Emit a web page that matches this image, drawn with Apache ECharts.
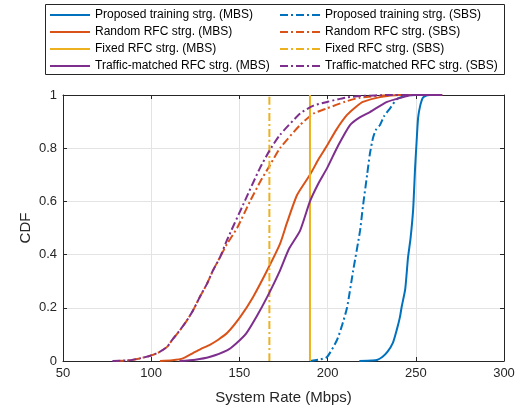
<!DOCTYPE html>
<html>
<head>
<meta charset="utf-8">
<script src="https://cdn.jsdelivr.net/npm/echarts@6/dist/echarts.min.js"></script>
<style>
  html, body { margin: 0; padding: 0; background: #fff; }
  #chart { width: 520px; height: 408px; }
</style>
</head>
<body>
<div id="chart"></div>
<script>
// x ticks / y ticks
const xTicks = [50, 100, 150, 200, 250, 300];
const yTicks = [0, 0.2, 0.4, 0.6, 0.8, 1];

// Proposed training strg. (MBS)
const propMbsX = [218, 225, 228, 231, 234, 237, 239.2, 241, 242, 244, 245.6, 247, 248.5, 249.6, 250.5, 251.3, 252.5, 254, 256, 258];
const propMbsY = [0, 0.002, 0.004, 0.015, 0.035, 0.068, 0.117, 0.165, 0.204, 0.27, 0.39, 0.46, 0.57, 0.726, 0.83, 0.914, 0.96, 0.99, 0.998, 1];
// Proposed training strg. (SBS)
const propSbsX = [190, 195, 199.7, 205.4, 208, 211, 214.5, 218.4, 220, 222.4, 224, 225.8, 227.5, 229.7, 232, 235.4, 239.4, 245, 250];
const propSbsY = [0, 0.005, 0.015, 0.08, 0.13, 0.2, 0.34, 0.49, 0.58, 0.70, 0.78, 0.84, 0.87, 0.887, 0.92, 0.95, 0.985, 0.998, 1];
// Random RFC strg. (MBS)
const randMbsX = [105, 112, 118, 123.7, 128, 133, 138, 143, 150.4, 157.7, 165.7, 173, 177, 182.7, 190, 195, 199.7, 205, 211, 216, 220, 229.7, 241, 265];
const randMbsY = [0, 0.003, 0.01, 0.03, 0.045, 0.06, 0.08, 0.105, 0.165, 0.24, 0.34, 0.44, 0.52, 0.624, 0.70, 0.76, 0.81, 0.87, 0.925, 0.955, 0.974, 0.992, 1, 1];
// Random RFC strg. (SBS)
const randSbsX = [80, 88, 93.7, 100.5, 105, 109, 112, 116.4, 120, 123.7, 127.5, 131.6, 135, 139, 143, 148.7, 156, 161.7, 167.4, 173, 184.4, 192, 199.7, 210, 218.4, 237, 265];
const randSbsY = [0, 0.003, 0.01, 0.022, 0.035, 0.053, 0.08, 0.117, 0.15, 0.19, 0.24, 0.29, 0.34, 0.39, 0.44, 0.5, 0.6, 0.673, 0.737, 0.8, 0.887, 0.93, 0.95, 0.975, 0.99, 1, 1];
// Fixed RFC strg.
const fixMbsX = [190, 190];
const fixMbsY = [0, 1];
const fixSbsX = [167, 167];
const fixSbsY = [0, 1];
// Traffic-matched RFC strg. (MBS)
const trafMbsX = [116, 125, 133, 143, 148, 154, 160, 165.7, 173, 178, 184.4, 190, 195, 199.7, 206, 212.7, 218, 224, 233.7, 242.8, 248, 265];
const trafMbsY = [0, 0.005, 0.015, 0.04, 0.065, 0.105, 0.17, 0.24, 0.34, 0.42, 0.49, 0.6, 0.67, 0.725, 0.81, 0.887, 0.915, 0.936, 0.974, 0.992, 1, 1];
// Traffic-matched RFC strg. (SBS)
const trafSbsX = [78, 88, 93.7, 100.5, 105, 109, 112, 116.4, 120, 123.7, 127.5, 131.6, 135, 139, 143, 152, 161.7, 167, 173, 184.4, 192, 199.7, 210, 218.4, 235, 260];
const trafSbsY = [0, 0.003, 0.01, 0.022, 0.035, 0.053, 0.08, 0.117, 0.15, 0.19, 0.24, 0.29, 0.34, 0.39, 0.455, 0.586, 0.726, 0.79, 0.85, 0.93, 0.96, 0.974, 0.99, 0.996, 1, 1];

const zip = (xs, ys) => xs.map((x, i) => [x, ys[i]]);

const BLUE = '#0072BD', ORANGE = '#D95319', YELLOW = '#EDB120', PURPLE = '#7E2F8E';
const DASHDOT = [8, 3, 2, 3];
const FONT = 'Liberation Sans, Arial, sans-serif';
const DARK = '#262626';

function mk(name, xs, ys, color, dashed) {
  return {
    name: name,
    type: 'line',
    symbol: 'none',
    smooth: 0.2,
    silent: true,
    data: zip(xs, ys),
    lineStyle: { color: color, width: 2, type: dashed ? DASHDOT : 'solid' },
    itemStyle: { color: color }
  };
}

const series = [
  mk('Proposed training strg. (MBS)', propMbsX, propMbsY, BLUE, false),
  mk('Proposed training strg. (SBS)', propSbsX, propSbsY, BLUE, true),
  mk('Random RFC strg. (MBS)', randMbsX, randMbsY, ORANGE, false),
  mk('Random RFC strg. (SBS)', randSbsX, randSbsY, ORANGE, true),
  mk('Fixed RFC strg. (MBS)', fixMbsX, fixMbsY, YELLOW, false),
  mk('Fixed RFC strg. (SBS)', fixSbsX, fixSbsY, YELLOW, true),
  mk('Traffic-matched RFC strg. (MBS)', trafMbsX, trafMbsY, PURPLE, false),
  mk('Traffic-matched RFC strg. (SBS)', trafSbsX, trafSbsY, PURPLE, true)
];

const legendBase = {
  orient: 'vertical',
  top: 8,
  padding: 0,
  itemWidth: 40,
  itemHeight: 14,
  itemGap: 3,
  itemStyle: { opacity: 0 },
  textStyle: { fontFamily: FONT, fontSize: 12, color: '#000', lineHeight: 14 },
  selectedMode: false
};

const chart = echarts.init(document.getElementById('chart'), null, { renderer: 'canvas' });
chart.setOption({
  animation: false,
  backgroundColor: '#fff',
  grid: { left: 63, right: 16, top: 95, bottom: 47, containLabel: false, outerBoundsMode: 'none' },
  legend: [
    Object.assign({}, legendBase, { left: 49, data: series.filter((s, i) => i % 2 === 0).map(s => s.name) }),
    Object.assign({}, legendBase, { left: 279, data: series.filter((s, i) => i % 2 === 1).map(s => s.name) })
  ],
  graphic: [{
    type: 'rect',
    shape: { x: 45.5, y: 4.5, width: 459, height: 70 },
    style: { fill: 'none', stroke: DARK, lineWidth: 1 },
    silent: true
  }],
  xAxis: [{
    type: 'value',
    min: xTicks[0], max: xTicks[xTicks.length - 1], interval: 50,
    name: 'System Rate (Mbps)',
    nameLocation: 'middle',
    nameGap: 29,
    nameMoveOverlap: false,
    nameTextStyle: { fontFamily: FONT, fontSize: 15, color: DARK },
    axisLine: { show: true, lineStyle: { color: DARK, width: 1 } },
    axisTick: { show: true, inside: true, length: 4, lineStyle: { color: DARK } },
    axisLabel: { fontFamily: FONT, fontSize: 13, color: DARK, margin: 6 },
    splitLine: { show: true, lineStyle: { color: '#e3e3e3', width: 1 } }
  }, {
    type: 'value', position: 'top',
    min: xTicks[0], max: xTicks[xTicks.length - 1], interval: 50,
    axisLine: { show: true, onZero: false, lineStyle: { color: DARK, width: 1 } },
    axisTick: { show: true, inside: true, length: 4, lineStyle: { color: DARK } },
    axisLabel: { show: false },
    splitLine: { show: false }
  }],
  yAxis: [{
    type: 'value',
    min: yTicks[0], max: yTicks[yTicks.length - 1], interval: 0.2,
    name: 'CDF',
    nameLocation: 'middle',
    nameGap: 30,
    nameMoveOverlap: false,
    nameTextStyle: { fontFamily: FONT, fontSize: 15, color: DARK },
    axisLine: { show: true, lineStyle: { color: DARK, width: 1 } },
    axisTick: { show: true, inside: true, length: 4, lineStyle: { color: DARK } },
    axisLabel: { fontFamily: FONT, fontSize: 13, color: DARK, margin: 6 },
    splitLine: { show: true, lineStyle: { color: '#e3e3e3', width: 1 } }
  }, {
    type: 'value', position: 'right',
    min: yTicks[0], max: yTicks[yTicks.length - 1], interval: 0.2,
    axisLine: { show: true, onZero: false, lineStyle: { color: DARK, width: 1 } },
    axisTick: { show: true, inside: true, length: 4, lineStyle: { color: DARK } },
    axisLabel: { show: false },
    splitLine: { show: false }
  }],
  series: series
});
</script>
</body>
</html>
